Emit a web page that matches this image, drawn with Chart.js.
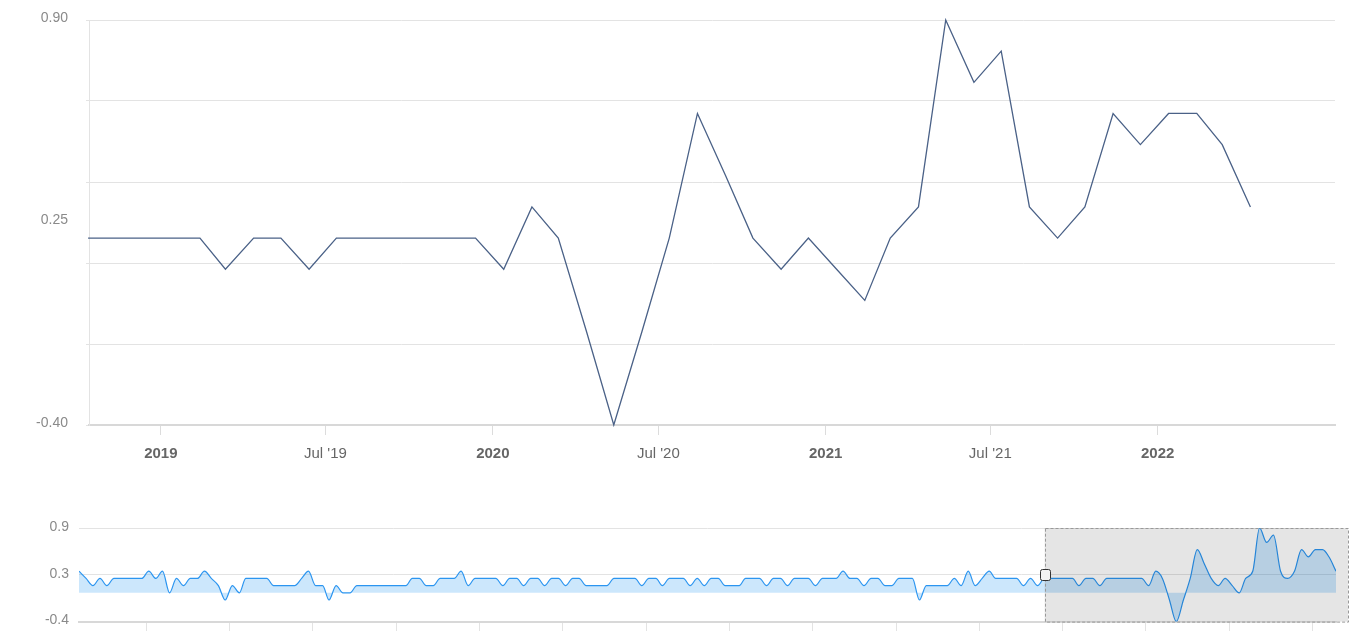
<!DOCTYPE html>
<html lang="en">
<head>
    <meta charset="UTF-8">
    <title>Index chart</title>
    <script src="https://cdn.jsdelivr.net/npm/chart.js"></script>
    <style>
        body {
            margin: 0;
            background: #ffffff;
            font-family: 'Liberation Sans', Arial, sans-serif;
        }
        .wrap {
            position: relative;
            width: 1368px;
            height: 631px;
            overflow: hidden;
        }
        #mainChart {
            position: absolute;
            left: 0;
            top: 0;
        }
        #navChart {
            position: absolute;
            left: 0;
            top: 500px;
        }
    </style>
</head>
<body>
    <div class="wrap">
        <canvas id="mainChart" width="1368" height="480"></canvas>
        <canvas id="navChart" width="1368" height="140"></canvas>
    </div>

    <script>
        // monthly series, one value per month starting March 2007 (points sit on the 13th)
        const firstMonth = '2007-03';
        const values = [
            /* 2007 Mar-Dec */ 0.3, 0.2, 0.1, 0.2, 0.1, 0.2, 0.2, 0.2, 0.2, 0.2,
            /* 2008 */ 0.3, 0.2, 0.3, 0.0, 0.2, 0.1, 0.2, 0.2, 0.3, 0.2, 0.1, -0.1,
            /* 2009 */ 0.1, 0.0, 0.2, 0.2, 0.2, 0.2, 0.1, 0.1, 0.1, 0.1, 0.2, 0.3,
            /* 2010 */ 0.1, 0.1, -0.1, 0.1, 0.0, 0.0, 0.1, 0.1, 0.1, 0.1, 0.1, 0.1,
            /* 2011 */ 0.1, 0.1, 0.2, 0.2, 0.1, 0.1, 0.2, 0.2, 0.2, 0.3, 0.1, 0.2,
            /* 2012 */ 0.2, 0.2, 0.2, 0.1, 0.2, 0.2, 0.1, 0.2, 0.2, 0.1, 0.2, 0.2,
            /* 2013 */ 0.1, 0.2, 0.2, 0.1, 0.1, 0.1, 0.1, 0.2, 0.2, 0.2, 0.2, 0.1,
            /* 2014 */ 0.2, 0.2, 0.1, 0.2, 0.2, 0.2, 0.1, 0.2, 0.1, 0.2, 0.2, 0.1,
            /* 2015 */ 0.1, 0.1, 0.2, 0.2, 0.2, 0.1, 0.2, 0.2, 0.1, 0.2, 0.2, 0.2,
            /* 2016 */ 0.1, 0.2, 0.2, 0.2, 0.3, 0.2, 0.2, 0.1, 0.2, 0.2, 0.1, 0.1,
            /* 2017 */ 0.2, 0.2, 0.2, -0.1, 0.1, 0.1, 0.1, 0.1, 0.2, 0.1, 0.3, 0.1,
            /* 2018 */ 0.2, 0.3, 0.2, 0.2, 0.2, 0.2, 0.1, 0.2, 0.1, 0.2, 0.2, 0.2,
            /* 2019 */ 0.2, 0.2, 0.1, 0.2, 0.2, 0.1, 0.2, 0.2, 0.2, 0.2, 0.2, 0.2,
            /* 2020 */ 0.1, 0.3, 0.2, -0.1, -0.4, -0.1, 0.2, 0.6, 0.4, 0.2, 0.1, 0.2,
            /* 2021 */ 0.1, 0.0, 0.2, 0.3, 0.9, 0.7, 0.8, 0.3, 0.2, 0.3, 0.6, 0.5,
            /* 2022 Jan-Apr */ 0.6, 0.6, 0.5, 0.3
        ];

        // visible window of the main chart
        const viewStart = '2018-10-14';
        const viewEnd = '2022-07-15';

        // main chart axis ticks
        const xTickDates = ['2019-01-01', '2019-07-01', '2020-01-01', '2020-07-01', '2021-01-01', '2021-07-01', '2022-01-01'];
        const xTickLabels = ['2019', "Jul '19", '2020', "Jul '20", '2021', "Jul '21", '2022'];
        const yGridValues = [-0.40, -0.14, 0.12, 0.38, 0.64, 0.90];
        const yLabelValues = [-0.40, 0.25, 0.90];

        // navigator axis ticks
        const navYearTicks = ['2008-01-01', '2009-01-01', '2010-01-01', '2011-01-01', '2012-01-01', '2013-01-01', '2014-01-01',
            '2015-01-01', '2016-01-01', '2017-01-01', '2018-01-01', '2019-01-01', '2020-01-01', '2021-01-01', '2022-01-01'];
        const navYValues = [-0.4, 0.25, 0.9];

        // build the x dates from the month index
        const startYear = parseInt(firstMonth.slice(0, 4));
        const startMon = parseInt(firstMonth.slice(5, 7)) - 1;
        const points = values.map((v, i) => ({
            x: Date.UTC(startYear, startMon + i, 13),
            y: v
        }));

        const t = s => Date.parse(s);

        Chart.defaults.font.family = "'Liberation Sans', Arial, sans-serif";
        Chart.defaults.animation = false;

        // Main chart
        new Chart(document.getElementById('mainChart'), {
            type: 'line',
            data: {
                datasets: [{
                    data: points,
                    borderColor: '#4a6187',
                    borderWidth: 1.3,
                    pointRadius: 0,
                    tension: 0,
                    fill: false,
                    clip: { left: 8, top: 3, right: 0, bottom: 3 }
                }]
            },
            options: {
                responsive: false,
                animation: false,
                layout: { padding: { top: 20, left: 0, right: 33, bottom: 10 } },
                plugins: { legend: { display: false }, tooltip: { enabled: false } },
                scales: {
                    x: {
                        type: 'linear',
                        min: t(viewStart),
                        max: t(viewEnd),
                        afterBuildTicks: s => { s.ticks = xTickDates.map(d => ({ value: t(d) })); },
                        afterFit: s => { s.height = 45; },
                        border: { display: true, color: '#d8d8d8', width: 2 },
                        grid: {
                            drawOnChartArea: false,
                            drawTicks: true,
                            tickLength: 10,
                            tickColor: '#dcdcdc'
                        },
                        ticks: {
                            autoSkip: false,
                            maxRotation: 0,
                            padding: 10,
                            color: '#666666',
                            font: ctx => {
                                const lbl = ctx.tick ? ctx.tick.label : '';
                                return { size: 15, weight: /^\d{4}$/.test(lbl) ? 'bold' : 'normal' };
                            },
                            callback: v => {
                                const i = xTickDates.findIndex(d => t(d) === v);
                                return i >= 0 ? xTickLabels[i] : '';
                            }
                        }
                    },
                    y: {
                        min: -0.4,
                        max: 0.9,
                        afterBuildTicks: s => {
                            const all = yGridValues.concat(yLabelValues.filter(v => !yGridValues.includes(v)));
                            all.sort((a, b) => a - b);
                            s.ticks = all.map(v => ({ value: v }));
                        },
                        afterFit: s => {
                            s.width = 89;
                            s.paddingTop = 0;
                            s.paddingBottom = 0;
                        },
                        border: { display: true, color: '#e3e3e3', width: 1 },
                        grid: {
                            drawTicks: true,
                            tickLength: 3,
                            lineWidth: 1,
                            color: ctx => yGridValues.includes(ctx.tick.value) ? '#e3e3e3' : 'rgba(0,0,0,0)'
                        },
                        ticks: {
                            padding: 18,
                            labelOffset: -2,
                            color: '#8a8a8a',
                            font: { size: 14 },
                            callback: v => yLabelValues.includes(v) ? v.toFixed(2) : ''
                        }
                    }
                }
            }
        });

        // navigator selection mask and handle
        const maskPlugin = {
            id: 'navMask',
            afterDatasetsDraw(chart) {
                const { ctx, chartArea, scales } = chart;
                const left = scales.x.getPixelForValue(t(viewStart));
                const right = chartArea.right + 12;
                const top = chartArea.top;
                const bottom = chartArea.bottom;
                ctx.save();
                ctx.fillStyle = 'rgba(0,0,0,0.1)';
                ctx.fillRect(left, top, right - left, bottom - top);
                ctx.strokeStyle = '#999999';
                ctx.lineWidth = 1;
                ctx.setLineDash([3, 2]);
                ctx.strokeRect(Math.round(left) + 0.5, top + 0.5, right - Math.round(left), bottom - top);
                ctx.setLineDash([]);
                const mid = (top + bottom) / 2;
                ctx.beginPath();
                ctx.roundRect(Math.round(left) - 4.5, Math.round(mid) - 5.5, 10, 11, 2);
                ctx.fillStyle = '#f2f2f2';
                ctx.fill();
                ctx.strokeStyle = '#333333';
                ctx.stroke();
                ctx.restore();
            }
        };

        // Navigator chart
        new Chart(document.getElementById('navChart'), {
            type: 'line',
            data: {
                datasets: [{
                    data: points,
                    borderColor: '#2b95f0',
                    backgroundColor: 'rgba(33,150,243,0.23)',
                    borderWidth: 1.2,
                    pointRadius: 0,
                    cubicInterpolationMode: 'monotone',
                    fill: { value: 0 }
                }]
            },
            options: {
                responsive: false,
                animation: false,
                layout: { padding: { top: 28, left: 0, right: 32, bottom: 0 } },
                plugins: { legend: { display: false }, tooltip: { enabled: false } },
                scales: {
                    x: {
                        type: 'linear',
                        min: points[0].x,
                        max: points[points.length - 1].x,
                        afterBuildTicks: s => { s.ticks = navYearTicks.map(d => ({ value: t(d) })); },
                        afterFit: s => { s.height = 9; },
                        border: { display: true, color: '#d8d8d8', width: 2 },
                        grid: {
                            drawOnChartArea: false,
                            drawTicks: true,
                            tickLength: 10,
                            tickColor: '#e3e3e3'
                        },
                        ticks: { autoSkip: false, maxRotation: 0, callback: () => '' }
                    },
                    y: {
                        min: -0.4,
                        max: 0.9,
                        afterBuildTicks: s => { s.ticks = navYValues.map(v => ({ value: v })); },
                        afterFit: s => { s.width = 79; },
                        border: { display: false },
                        grid: { drawTicks: false, color: '#e3e3e3' },
                        ticks: {
                            padding: 10,
                            labelOffset: -1,
                            color: '#8a8a8a',
                            font: { size: 14 },
                            callback: v => v.toFixed(1)
                        }
                    }
                }
            },
            plugins: [maskPlugin]
        });
    </script>
</body>
</html>
